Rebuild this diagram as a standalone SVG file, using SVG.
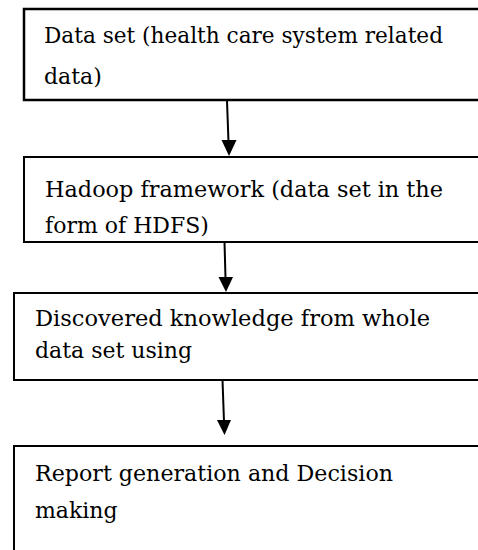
<svg xmlns="http://www.w3.org/2000/svg" width="478" height="550" viewBox="0 0 478 550">
<style>
.box{fill:#fff;stroke:#000;stroke-width:2}
.t{font-family:"DejaVu Serif","Liberation Serif",serif;font-size:22px;fill:#000}
.c{stroke:#000;stroke-width:2;fill:none}
.h{fill:#000;stroke:none}
</style>
<rect width="478" height="550" fill="#fff"/>
<g id="n1">
<rect class="box" x="24" y="9" width="470" height="91" style="stroke-width:2.5"/>
<text class="t" x="44" y="43" textLength="399" lengthAdjust="spacingAndGlyphs">Data set (health care system related</text>
<text class="t" x="44" y="84">data)</text>
</g>
<g id="n2">
<rect class="box" x="24" y="157" width="470" height="85"/>
<text class="t" x="45" y="197" textLength="398" lengthAdjust="spacingAndGlyphs">Hadoop framework (data set in the</text>
<text class="t" x="45" y="233">form of HDFS)</text>
</g>
<g id="n3">
<rect class="box" x="14" y="293" width="480" height="87"/>
<text class="t" x="35" y="326" textLength="395" lengthAdjust="spacingAndGlyphs">Discovered knowledge from whole</text>
<text class="t" x="35" y="358">data set using</text>
</g>
<g id="n4">
<rect class="box" x="14" y="446" width="480" height="130"/>
<text class="t" x="35" y="481" textLength="358" lengthAdjust="spacingAndGlyphs">Report generation and Decision</text>
<text class="t" x="35" y="518">making</text>
</g>
<g id="connectors">
<line class="c" x1="227" y1="101" x2="228.5" y2="142"/>
<polygon class="h" points="221.5,140 236.5,140 229,156"/>
<line class="c" x1="224.5" y1="242" x2="225.5" y2="278"/>
<polygon class="h" points="218.5,277 233,277 226,292"/>
<line class="c" x1="222.5" y1="380" x2="224" y2="422"/>
<polygon class="h" points="217,420 231,420 224.5,435"/>
</g>
</svg>
